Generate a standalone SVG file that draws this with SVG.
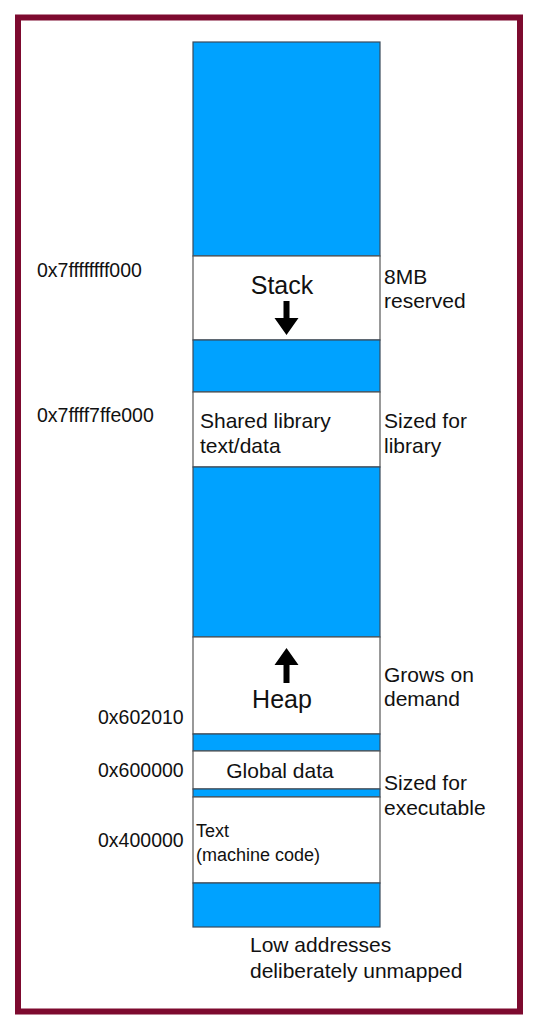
<svg xmlns="http://www.w3.org/2000/svg" width="546" height="1028" viewBox="0 0 546 1028">
<style>
text{font-family:"Liberation Sans",Arial,sans-serif;fill:#111}
.big{font-size:25px}
.mid{font-size:21px}
.sm{font-size:18px}
.addr{font-size:19.5px}
.blue{fill:#00a2ff;stroke:#3a4a5a;stroke-width:1.2}
.white{fill:#fff;stroke:#555;stroke-width:1.2}
</style>
<rect x="0" y="0" width="546" height="1028" fill="#fff"/>
<rect x="18" y="17.5" width="502" height="994" fill="none" stroke="#7d0a2f" stroke-width="6"/>
<g id="unmapped-top"><rect class="blue" x="193" y="42" width="187" height="214"/></g>
<g id="stack">
<rect class="white" x="193" y="256" width="187" height="84"/>
<text class="big" x="282" y="294" text-anchor="middle">Stack</text>
<polygon points="283.5,301 289.5,301 289.5,318 298.5,318 286.5,335 274.5,318 283.5,318" fill="#000"/>
</g>
<g id="gap1"><rect class="blue" x="193" y="340" width="187" height="52"/></g>
<g id="shared">
<rect class="white" x="193" y="392" width="187" height="75"/>
<text class="mid" x="200" y="428">Shared library</text>
<text class="mid" x="200" y="453">text/data</text>
</g>
<g id="gap2"><rect class="blue" x="193" y="467" width="187" height="170"/></g>
<g id="heap">
<rect class="white" x="193" y="637" width="187" height="97"/>
<text class="big" x="282" y="708" text-anchor="middle">Heap</text>
<polygon points="283.5,683 289.5,683 289.5,665 298.5,665 286.5,648 274.5,665 283.5,665" fill="#000"/>
</g>
<g id="gap3"><rect class="blue" x="193" y="734" width="187" height="17"/></g>
<g id="global">
<rect class="white" x="193" y="751" width="187" height="38"/>
<text class="mid" x="280" y="778" text-anchor="middle">Global data</text>
</g>
<g id="gap4"><rect class="blue" x="193" y="789" width="187" height="8"/></g>
<g id="text-seg">
<rect class="white" x="193" y="797" width="187" height="86"/>
<text class="sm" x="196" y="837">Text</text>
<text class="sm" x="196" y="861">(machine code)</text>
</g>
<g id="unmapped-bottom"><rect class="blue" x="193" y="883" width="187" height="44"/></g>
<g id="labels">
<text class="addr" x="37" y="277">0x7ffffffff000</text>
<text class="addr" x="37" y="422">0x7ffff7ffe000</text>
<text class="addr" x="98" y="724">0x602010</text>
<text class="addr" x="98" y="777">0x600000</text>
<text class="addr" x="98" y="847">0x400000</text>
<text class="mid" x="384" y="284">8MB</text>
<text class="mid" x="384" y="308">reserved</text>
<text class="mid" x="384" y="428">Sized for</text>
<text class="mid" x="384" y="453">library</text>
<text class="mid" x="384" y="682">Grows on</text>
<text class="mid" x="384" y="706">demand</text>
<text class="mid" x="384" y="790">Sized for</text>
<text class="mid" x="384" y="815">executable</text>
<text class="mid" x="250" y="952">Low addresses</text>
<text class="mid" x="250" y="978">deliberately unmapped</text>
</g>
</svg>
